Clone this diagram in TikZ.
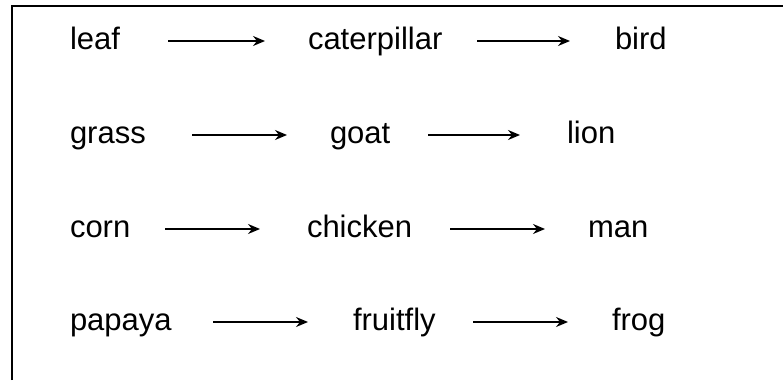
\documentclass[tikz,border=0pt]{standalone}
\usepackage{fontspec}
\setmainfont{Liberation Sans}
\usetikzlibrary{arrows.meta}
\begin{document}
\begin{tikzpicture}[x=1pt,y=-1pt,
  word/.style={anchor=base west, inner sep=0pt, outer sep=0pt, font=\fontsize{31}{37}\selectfont},
  arr/.style={line width=1.7pt, -{Stealth[length=12pt,width=10pt,inset=4pt]}}]
\useasboundingbox (0,0) rectangle (783,380);
\draw[line width=2pt] (12,380) -- (12,6) -- (783,6);
% row 1
\node[word] (leaf) at (70,49) {leaf};
\node[word] (cat) at (308,49) {caterpillar};
\node[word] (bird) at (615,49) {bird};
% row 2
\node[word] (grass) at (70,143) {grass};
\node[word] (goat) at (330,143) {goat};
\node[word] (lion) at (567,143) {lion};
% row 3
\node[word] (corn) at (70,237) {corn};
\node[word] (chicken) at (307,237) {chicken};
\node[word] (man) at (588,237) {man};
% row 4
\node[word] (papaya) at (70,330) {papaya};
\node[word] (fruitfly) at (353,330) {fruitfly};
\node[word] (frog) at (612,330) {frog};
% arrows (at mid x-height, shortened relative to the west anchors)
\tikzset{lift/.style={yshift=8pt}}
\draw[arr, shorten <=98pt, shorten >=43pt] ([lift]leaf.base west) -- ([lift]cat.base west);
\draw[arr, shorten <=169pt, shorten >=45pt] ([lift]cat.base west) -- ([lift]bird.base west);
\draw[arr, shorten <=122pt, shorten >=43pt] ([lift]grass.base west) -- ([lift]goat.base west);
\draw[arr, shorten <=98pt, shorten >=47pt] ([lift]goat.base west) -- ([lift]lion.base west);
\draw[arr, shorten <=95pt, shorten >=47pt] ([lift]corn.base west) -- ([lift]chicken.base west);
\draw[arr, shorten <=143pt, shorten >=43pt] ([lift]chicken.base west) -- ([lift]man.base west);
\draw[arr, shorten <=143pt, shorten >=45pt] ([lift]papaya.base west) -- ([lift]fruitfly.base west);
\draw[arr, shorten <=120pt, shorten >=44pt] ([lift]fruitfly.base west) -- ([lift]frog.base west);
\end{tikzpicture}
\end{document}
